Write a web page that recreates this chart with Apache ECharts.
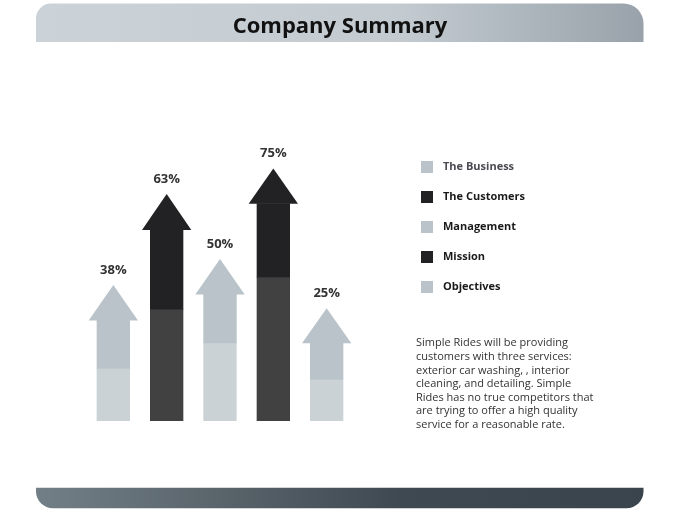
<!DOCTYPE html>
<html>
<head>
    <title>Company Summary</title>
    <meta charset="utf-8">
    <script type="text/javascript" src="https://cdn.jsdelivr.net/npm/echarts@6/dist/echarts.min.js"></script>
    <style>
        html, body { margin: 0; padding: 0; background: #fff; }
    </style>
</head>
<body>
    <div id="main" style="width: 680px; height: 510px;"></div>
    <script type="text/javascript">
        // items, left to right (same order as the legend)
        const items = ['The Business', 'The Customers', 'Management', 'Mission', 'Objectives'];
        const labels = ['38%', '63%', '50%', '75%', '25%'];
        // heights, on a 0-100 axis
        const splitTop = [17.6, 37.3, 26.1, 47.9, 13.9];   // top of the pale lower block
        const shaftTop = [33.7, 63.8, 42.3, 72.6, 26.1];   // base of the arrow head
        const tipTop = [45.3, 75.7, 54.0, 84.2, 37.6];     // arrow tip
        const dark = [false, true, false, true, false];

        const paragraph = 'Simple Rides will be providing\ncustomers with three services:\nexterior car washing, , interior\ncleaning, and detailing. Simple\nRides has no true competitors that\nare trying to offer a high quality\nservice for a reasonable rate.';

        const font = '"Open Sans", "Noto Sans", sans-serif';
        const colors = {
            light: { top: '#b9c3c9', low: '#cad2d6' },
            dark: { top: '#222224', low: '#414141' }
        };

        function renderArrow(params, api) {
            const i = api.value(0);
            const base = api.coord([i, 0]);
            const cx = base[0];
            const band = api.size([1, 0])[0];
            const shaftW = band * 0.625;
            const headW = band * 0.925;
            const ySplit = api.coord([i, api.value(1)])[1];
            const yShaft = api.coord([i, api.value(2)])[1];
            const yTip = api.coord([i, api.value(3)])[1];
            const c = dark[i] ? colors.dark : colors.light;
            return {
                type: 'group',
                children: [
                    { type: 'rect', shape: { x: cx - shaftW / 2, y: ySplit, width: shaftW, height: base[1] - ySplit }, style: { fill: c.low } },
                    { type: 'rect', shape: { x: cx - shaftW / 2, y: yShaft, width: shaftW, height: ySplit - yShaft + 0.5 }, style: { fill: c.top } },
                    { type: 'polygon', shape: { points: [[cx - headW / 2, yShaft + 0.5], [cx + headW / 2, yShaft + 0.5], [cx, yTip]] }, style: { fill: c.top } },
                    { type: 'text', style: { x: cx, y: yTip - 15, text: labels[i], align: 'center', verticalAlign: 'middle', fill: '#333', font: 'bold 13px ' + font } }
                ]
            };
        }

        const chart = echarts.init(document.getElementById('main'), null, { renderer: 'canvas' });
        chart.setOption({
            animation: false,
            title: {
                text: 'Company Summary',
                left: 'center',
                top: 11,
                textStyle: { fontFamily: font, fontSize: 22, fontWeight: 'bold', color: '#111' }
            },
            legend: {
                orient: 'vertical',
                left: 421,
                top: 161,
                padding: 0,
                itemWidth: 12,
                itemHeight: 12,
                itemGap: 18,
                icon: 'rect',
                selectedMode: false,
                data: items.map((name, i) => ({
                    name: name,
                    textStyle: { color: i === 0 ? '#4a4a52' : '#1a1a1a' }
                })),
                textStyle: { fontFamily: font, fontSize: 11, fontWeight: 'bold', padding: [0, 0, 0, 5] }
            },
            grid: { left: 86.67, right: 326.67, top: 121, bottom: 89 },
            xAxis: { type: 'category', data: items, show: false },
            yAxis: { type: 'value', min: 0, max: 100, show: false },
            series: items.map((name, i) => ({
                type: 'custom',
                name: name,
                itemStyle: { color: dark[i] ? colors.dark.top : colors.light.top },
                renderItem: renderArrow,
                data: [[i, splitTop[i], shaftTop[i], tipTop[i]]]
            })),
            graphic: [
                {
                    type: 'rect', z: -1,
                    shape: { x: 36, y: 3.5, width: 607.5, height: 38.5, r: [15, 20, 0, 0] },
                    style: { fill: new echarts.graphic.LinearGradient(0, 0, 1, 0, [
                        { offset: 0, color: '#cbd3d9' },
                        { offset: 0.6, color: '#c3cbd1' },
                        { offset: 1, color: '#99a2aa' }
                    ]) }
                },
                {
                    type: 'rect',
                    shape: { x: 36, y: 487.7, width: 607.5, height: 20.5, r: [0, 0, 17, 17] },
                    style: { fill: new echarts.graphic.LinearGradient(0, 0, 1, 0, [
                        { offset: 0, color: '#737f86' },
                        { offset: 0.6, color: '#3f4951' },
                        { offset: 1, color: '#3a444c' }
                    ]) }
                },
                {
                    type: 'text',
                    left: 416,
                    top: 336.5,
                    style: { text: paragraph, fill: '#333', font: '11px ' + font, lineHeight: 13.6 }
                }
            ]
        });
    </script>
</body>
</html>
